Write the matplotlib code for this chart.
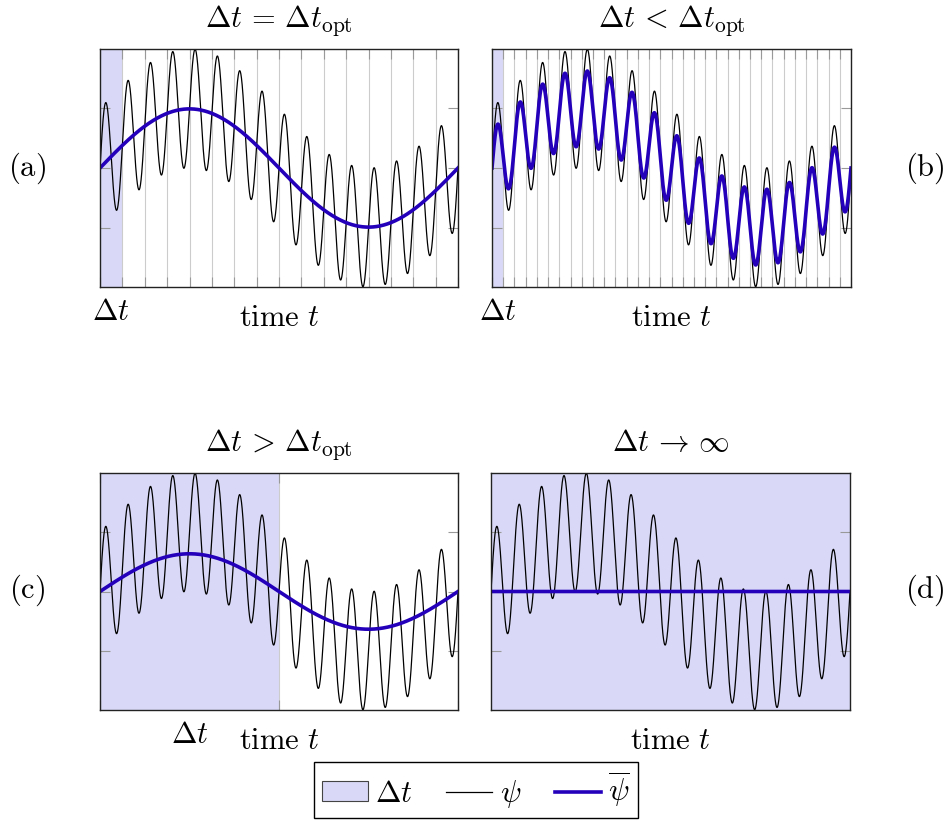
import numpy as np
import matplotlib
matplotlib.use("Agg")
import matplotlib.pyplot as plt
from matplotlib.patches import Patch
from matplotlib.lines import Line2D

plt.rcParams['mathtext.fontset'] = 'cm'
plt.rcParams['font.family'] = 'serif'
plt.rcParams['font.serif'] = ['DejaVu Serif']

# signal psi(t) = slow wave + fast wave over one slow period
slow_amp = 1.0
slow_cycles = 1
fast_amp = 1.0
fast_cycles = 16

# averaging window for each panel (inf -> whole-record mean)
windows = [1 / 16, 1 / 32, 1 / 2, np.inf]
titles = [r'$\Delta t\,=\,\Delta t_{\mathrm{opt}}$', r'$\Delta t\,<\,\Delta t_{\mathrm{opt}}$',
          r'$\Delta t\,>\,\Delta t_{\mathrm{opt}}$', r'$\Delta t\,\rightarrow\,\infty$']
letters = ['(a)', '(b)', '(c)', '(d)']

shade = '#d9d9f7'
blue = '#2400bb'
FS = 22

t = np.linspace(0, 1, 3000)


def psi(t):
    return slow_amp * np.sin(2 * np.pi * slow_cycles * t) + fast_amp * np.sin(2 * np.pi * fast_cycles * t)


def psi_mean(t, dt):
    # centred running mean of psi over a window of width dt
    if np.isinf(dt):
        return np.zeros_like(t)
    return (slow_amp * np.sinc(slow_cycles * dt) * np.sin(2 * np.pi * slow_cycles * t)
            + fast_amp * np.sinc(fast_cycles * dt) * np.sin(2 * np.pi * fast_cycles * t))


fig = plt.figure(figsize=(9.47, 8.21), dpi=100)
W, H = 947, 821
boxes = [(100, 49, 458, 287), (492, 49, 851, 287), (100, 473, 458, 710), (491, 473, 850, 710)]
letter_pos = [(27, 168), (925, 168), (27, 590), (925, 590)]

for i, (x0, y0, x1, y1) in enumerate(boxes):
    ax = fig.add_axes([x0 / W, 1 - y1 / H, (x1 - x0) / W, (y1 - y0) / H])
    dt = windows[i]
    ax.set_xlim(0, 1)
    ax.set_ylim(-2, 2)
    if np.isinf(dt):
        ax.axvspan(0, 1, color=shade, lw=0, zorder=0)
        ax.set_xticks([])
    else:
        ax.axvspan(0, dt, color=shade, lw=0, zorder=0)
        ax.set_xticks(np.arange(0, 1 + 1e-9, dt))
        ax.grid(axis='x', color='#cccccc', lw=0.8, zorder=1)
        ax.text(dt / 2, -0.14, r'$\Delta t$', transform=ax.get_xaxis_transform(),
                ha='center', va='baseline', fontsize=FS)
    ax.set_axisbelow(True)
    ax.set_yticks([-1, 0, 1])
    ax.tick_params(direction='in', length=7, color='#999999', width=0.8,
                   left=True, right=True, top=True, bottom=True,
                   labelleft=False, labelbottom=False)
    for s in ax.spines.values():
        s.set_color('#222222')
        s.set_linewidth(1.0)
        s.set_zorder(5)

    ax.plot(t, psi(t), color='black', lw=0.9, zorder=3)
    ax.plot(t, psi_mean(t, dt), color=blue, lw=2.6, zorder=4)

    ax.text(0.5, 1.092, titles[i], transform=ax.transAxes, ha='center', va='baseline', fontsize=FS)
    ax.text(0.5, -0.165, r'$\mathrm{time}\ t$', transform=ax.transAxes,
            ha='center', va='baseline', fontsize=FS)
    lx, ly = letter_pos[i]
    fig.text(lx / W, 1 - ly / H, r'$\mathrm{%s}$' % letters[i], ha='center', va='center', fontsize=FS)

handles = [Patch(facecolor=shade, edgecolor='#444444', lw=0.8),
           Line2D([], [], color='black', lw=0.9),
           Line2D([], [], color=blue, lw=2.6)]
fig.legend(handles, [r'$\Delta t$', r'$\psi$', r'$\overline{\psi}$'], ncol=3,
           loc='center', bbox_to_anchor=(476 / W, 1 - 790 / H), fontsize=FS,
           frameon=True, fancybox=False, edgecolor='black', framealpha=1,
           handlelength=1.5, handleheight=0.6, handletextpad=0.25, columnspacing=1.1,
           borderpad=0.25, borderaxespad=0)

fig.savefig('out.png', dpi=100)
